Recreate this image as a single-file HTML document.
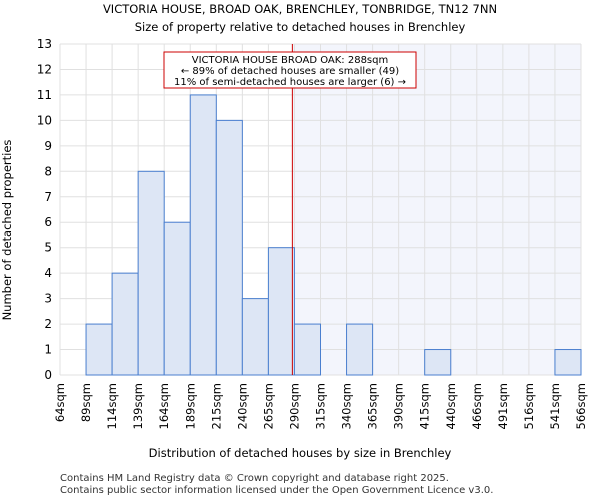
<!DOCTYPE html>
<html><head><meta charset="utf-8"><style>
body{margin:0;background:#fff;font-family:"DejaVu Sans","Liberation Sans",sans-serif;}
</style></head><body>
<svg width="600" height="500" xmlns="http://www.w3.org/2000/svg" font-family="DejaVu Sans, Liberation Sans, sans-serif">
<text x="300" y="13" text-anchor="middle" font-size="11.5">VICTORIA HOUSE, BROAD OAK, BRENCHLEY, TONBRIDGE, TN12 7NN</text>
<text x="300" y="31" text-anchor="middle" font-size="11.5">Size of property relative to detached houses in Brenchley</text>
<g id="plot"></g>
<text x="300" y="457" text-anchor="middle" font-size="11.5">Distribution of detached houses by size in Brenchley</text>
<text x="11" y="230" text-anchor="middle" font-size="11.5" transform="rotate(-90 11 230)">Number of detached properties</text>
<text x="60" y="481" font-size="10" fill="#333">Contains HM Land Registry data © Crown copyright and database right 2025.</text>
<text x="60" y="493" font-size="10" fill="#333">Contains public sector information licensed under the Open Government Licence v3.0.</text>
</svg>
<script>
const binLabels=["64sqm","89sqm","114sqm","139sqm","164sqm","189sqm","215sqm","240sqm","265sqm","290sqm","315sqm","340sqm","365sqm","390sqm","415sqm","440sqm","466sqm","491sqm","516sqm","541sqm","566sqm"];
const binStarts=[64,89,114,139,164,189,215,240,265,290,315,340,365,390,415,440,466,491,516,541,566];
const counts=[0,2,4,8,6,11,10,3,5,2,0,2,0,0,1,0,0,0,0,1];
const yTicks=[0,1,2,3,4,5,6,7,8,9,10,11,12,13];
const propertySize=288;
const NS="http://www.w3.org/2000/svg";
const L=60,R=581,T=44,B=375,N=counts.length,bw=(R-L)/N;
const yS=v=>B-v*(B-T)/13;
const xIdx=i=>L+i*bw;
function xVal(v){for(let i=0;i<binStarts.length-1;i++){if(v<=binStarts[i+1])return xIdx(i)+(v-binStarts[i])/(binStarts[i+1]-binStarts[i])*bw;}return R;}
const g=document.getElementById('plot');
function mk(t,a){const e=document.createElementNS(NS,t);for(const k in a)e.setAttribute(k,a[k]);g.appendChild(e);return e;}
const px=xVal(propertySize);
let e=mk('rect',{x:px,y:T,width:R-px,height:B-T,fill:'#f3f5fc'});


for(let i=0;i<=N;i++){e=mk('line',{x1:xIdx(i),x2:xIdx(i),y1:T,y2:B,stroke:'#e0e0e0'});

}
yTicks.forEach(v=>{e=mk('line',{x1:L,x2:R,y1:yS(v),y2:yS(v),stroke:'#e0e0e0'});


e=mk('text',{x:L-8,y:yS(v)+4,'text-anchor':'end','font-size':'12'});e.textContent=v;

});
counts.forEach((c,i)=>{if(c>0){e=mk('rect',{x:xIdx(i),y:yS(c),width:bw,height:B-yS(c),fill:'#dde6f5',stroke:'#4a7fcf','stroke-width':1});

}});
binLabels.forEach((l,i)=>{const x=xIdx(i)+4;e=mk('text',{x:x,y:383,'text-anchor':'end','font-size':'11.5',transform:`rotate(-90 ${x} 383)`});e.textContent=l;

});
e=mk('line',{x1:px,x2:px,y1:T,y2:B,stroke:'#cc0000','stroke-width':1});


e=mk('rect',{x:164,y:52,width:252,height:36,fill:'#fff',stroke:'#cc0000'});


["VICTORIA HOUSE BROAD OAK: 288sqm","← 89% of detached houses are smaller (49)","11% of semi-detached houses are larger (6) →"].forEach((t,i)=>{e=mk('text',{x:290,y:63+i*11,'text-anchor':'middle','font-size':'10'});e.textContent=t;

});
</script>
</body></html>
